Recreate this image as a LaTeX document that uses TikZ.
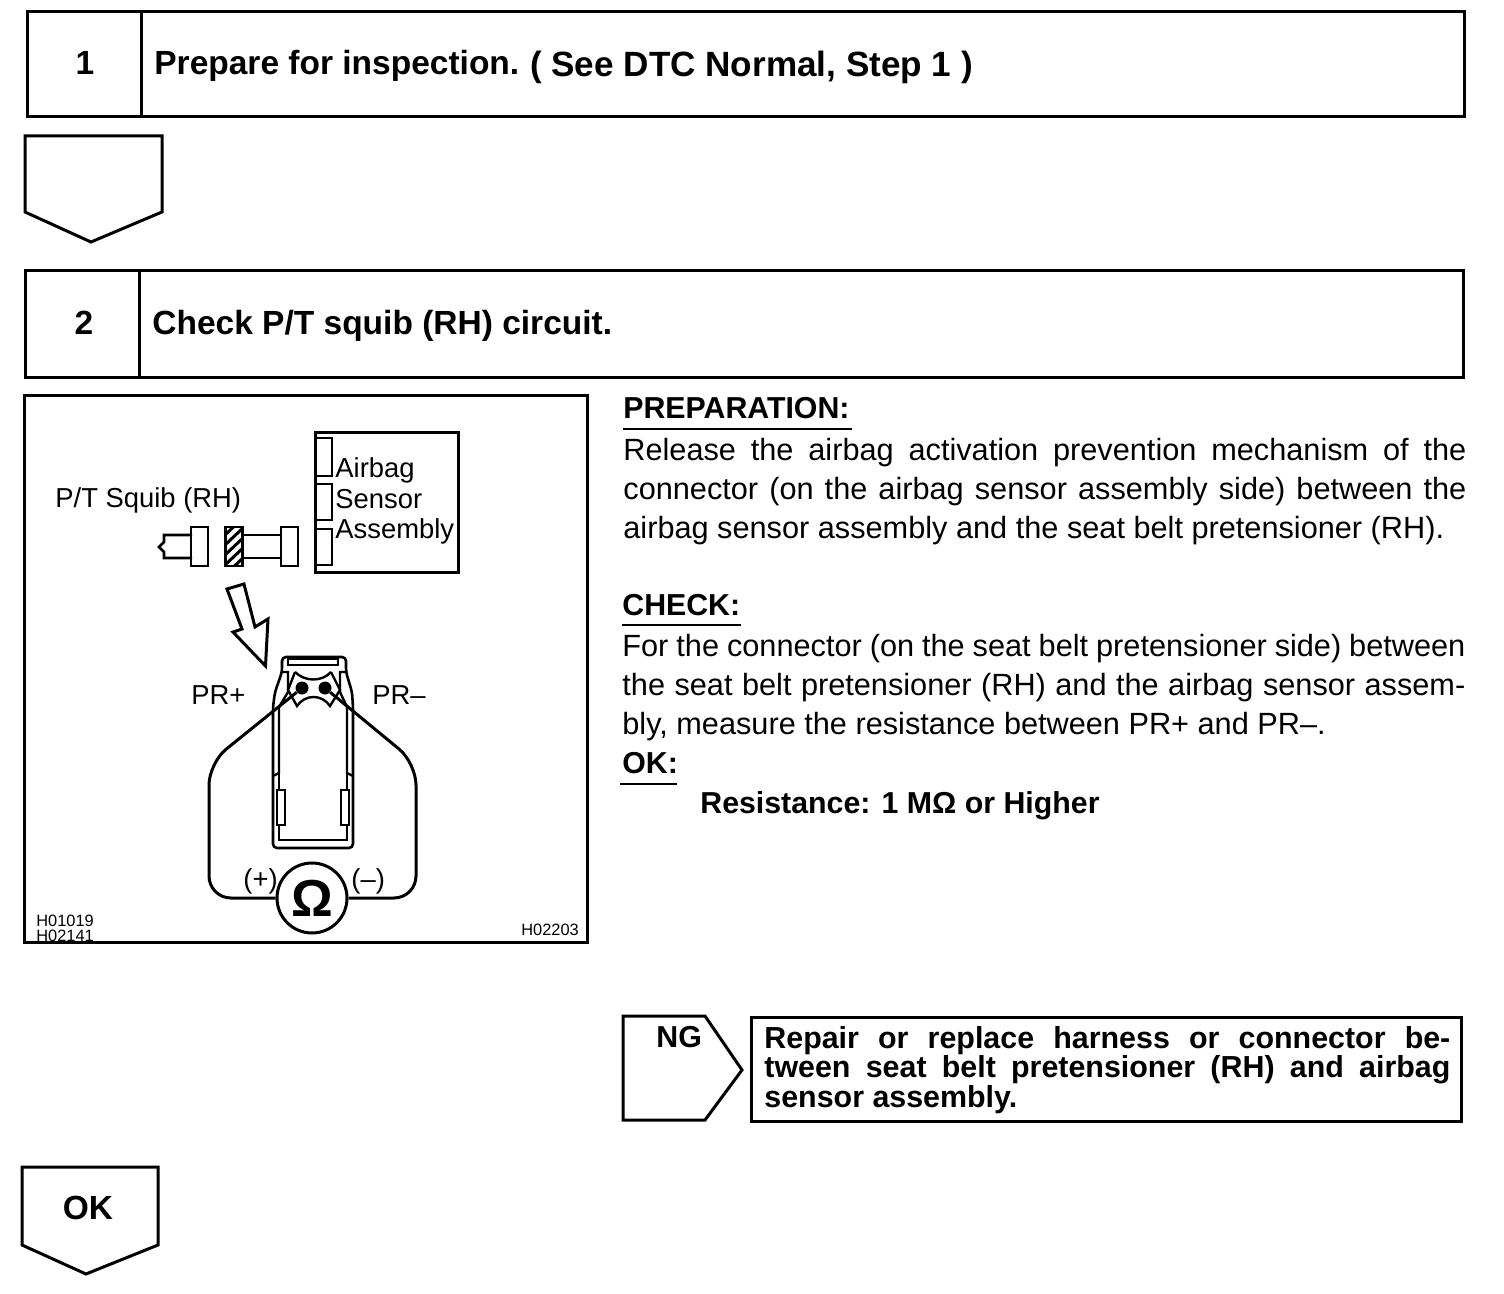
\documentclass[tikz,border=0pt]{standalone}
\usepackage{fontspec}
\setmainfont{Liberation Sans}
\usetikzlibrary{positioning}

\begin{document}
\begin{tikzpicture}[
    x=0.5pt, y=-0.5pt,
    line join=miter,
    stepbox/.style={draw, line width=1.5pt, inner sep=0pt, outer sep=0pt, anchor=north west},
    heading/.style={inner sep=0pt, anchor=base west, font=\fontsize{16.75}{20}\selectfont\bfseries},
    stepnum/.style={inner sep=0pt, anchor=base, font=\fontsize{16.75}{20}\selectfont\bfseries},
    bodytext/.style={inner sep=0pt, anchor=base west, text width=421.5pt, align=justify, font=\fontsize{15.35}{19.6}\selectfont},
    subhead/.style={inner sep=0pt, anchor=base west, font=\fontsize{15.15}{18}\selectfont\bfseries},
    lbl/.style={inner sep=0pt, anchor=base west, font=\fontsize{13.7}{16}\selectfont},
    figcode/.style={inner sep=0pt, anchor=base west, font=\fontsize{8.2}{10}\selectfont},
    slot/.style={draw, line width=1.1pt, inner sep=0pt, outer sep=0pt, anchor=north west, minimum width=8pt},
    flange/.style={draw, line width=1.2pt, inner sep=0pt, outer sep=0pt, anchor=north west, minimum width=8.5pt, minimum height=19.5pt},
    pinhole/.style={circle, fill, inner sep=0pt, minimum size=6.5pt},
    outline/.style={draw, line width=1.5pt},
    wire/.style={draw, line width=1.5pt, rounded corners=11pt},
    thinpart/.style={draw, line width=1.2pt}
]
\useasboundingbox (0,0) rectangle (1504,1294);

% Step 1
\node[stepbox, minimum width=57pt, minimum height=52.5pt] (num1) at (27,12) {};
\node[stepbox, minimum width=661.5pt, minimum height=52.5pt] (step1) at (141,12) {};
\node[stepnum] (n1) at (85,75) {1};
\node[heading] (t1) at (154,75) {Prepare for inspection.\hspace{5.4pt}\raisebox{-1pt}{\fontsize{17.55}{20}\selectfont ( See DTC Normal, Step 1 )}};

% Down arrow after step 1
\draw[outline] (25,136) -- (162,136) -- (162,212) -- (91,242) -- (25,212) -- cycle;

% Step 2
\node[stepbox, minimum width=57pt, minimum height=53.5pt] (num2) at (25,271) {};
\node[stepbox, minimum width=662pt, minimum height=53.5pt] (step2) at (139,271) {};
\node[stepnum] (n2) at (84,335) {2};
\node[heading] (t2) at (152,335) {Check P/T squib (RH) circuit.};

% Illustration frame
\node[stepbox, minimum width=281.5pt, minimum height=273pt] (frame) at (24,396) {};

% Sensor assembly
\node[stepbox, minimum width=71.5pt, minimum height=69.5pt] (sensor) at (315,433) {};
\node[slot, minimum height=19pt] (slota) at (316,438) {};
\node[slot, minimum height=18pt] (slotb) at (316,484) {};
\node[slot, minimum height=18pt] (slotc) at (316,529) {};
\node[lbl] (airbag) at (335,477) {Airbag};
\node[lbl] (sens) at (335,508) {Sensor};
\node[lbl] (assy) at (335,538) {Assembly};
\node[lbl] (squib) at (55,507) {P/T Squib (RH)};

% Connector halves
\draw[thinpart, line width=1.4pt] (192,535) -- (164,535) -- (164,542) -- (159,547) -- (164,552) -- (164,558) -- (192,558);
\node[flange] (flangea) at (191,527) {};
\node[flange] (flangeb) at (225.5,527) {};
\begin{scope}
    \clip (225.5,527) rectangle (243,566);
    \foreach \hy in {535,545,...,585}
        \draw[line width=1.5pt] (225,\hy) -- (244,\hy-18);
\end{scope}
\node[flange] (flangec) at (281,527) {};
\draw[thinpart, line width=1.4pt] (flangeb.east |- 0,535) -- (flangec.west |- 0,535);
\draw[thinpart, line width=1.4pt] (flangeb.east |- 0,558) -- (flangec.west |- 0,558);

% Hollow arrow
\draw[outline] (227,589) -- (244,584) -- (255,627) -- (268,619) -- (265.5,666) -- (233,632) -- (242,629) -- cycle;

% Connector seen from the front
\draw[outline, line width=1.3pt, rounded corners=2pt] (282,672) -- (282,657) -- (346,657) -- (346,672) -- (352,692) -- (353,707) -- (353,848) -- (273,848) -- (273,707) -- (275,692) -- cycle;
\draw[thinpart] (288,659) rectangle (338,665);
\draw[thinpart] (279,707) -- (279,773) -- (273,776);
\draw[thinpart] (347,707) -- (347,773) -- (353,776);
\draw[thinpart] (278,840) -- (348,840);
\draw[thinpart] (282,672) -- (288,672) -- (288,692) -- (279,707);
\draw[thinpart] (346,672) -- (340,672) -- (340,692) -- (347,707);
\draw[thinpart] (295,672) .. controls (305,682) and (322,682) .. (331,672);
\draw[thinpart] (295,672) -- (288,690) -- (297,706) .. controls (305,694) and (322,694) .. (330,706) -- (340,690) -- (331,672);
\node[stepbox, line width=1.1pt, minimum width=4pt, minimum height=17.5pt] (resa) at (277,790) {};
\node[stepbox, line width=1.1pt, minimum width=4pt, minimum height=17.5pt] (resb) at (341,790) {};
\draw[thinpart] (279,773) -- (279,790) (279,825) -- (279,840);
\draw[thinpart] (347,773) -- (347,790) (347,825) -- (347,840);
\node[pinhole] (pinplus) at (302,688) {};
\node[pinhole] (pinminus) at (325,688) {};
\node[lbl] (prplus) at (191,704) {PR+};
\node[lbl] (prminus) at (372,704) {PR--};

% Ohmmeter and its leads
\node[circle, draw, line width=1.5pt, minimum size=35pt, inner sep=0pt, font=\fontsize{26}{30}\selectfont\bfseries] (meter) at (312,898) {Ω};
\coordinate (leadplus) at (209,763);
\coordinate (footplus) at (209,898);
\coordinate (leadminus) at (416,763);
\coordinate (footminus) at (416,898);
\draw[wire] (pinplus) -- (leadplus) -- (footplus) -- (meter.west);
\draw[wire] (pinminus) -- (leadminus) -- (footminus) -- (meter.east);
\node[lbl] (plus) at (243,888) {(+)};
\node[lbl] (minus) at (351,888) {(--)};

% Figure codes
\node[figcode] (codea) at (36,926) {H01019};
\node[figcode] (codeb) at (36,941) {H02141};
\node[figcode] (codec) at (521,935) {H02203};

% Preparation
\node[subhead] (prep) at (623,419) {PREPARATION:};
\draw[line width=1pt] (prep.base west) ++(0,10) -- ++(229,0);
\node[bodytext] (preptext) at (623,460) {Release the airbag activation prevention mechanism of the\linebreak connector (on the airbag sensor assembly side) between the\linebreak airbag sensor assembly and the seat belt pretensioner (RH).};

% Check
\node[subhead] (check) at (622,615) {CHECK:};
\draw[line width=1pt] (check.base west) ++(0,10) -- ++(119,0);
\node[bodytext] (checktext) at (622,656) {For the connector (on the seat belt pretensioner side) between\linebreak the seat belt pretensioner (RH) and the airbag sensor assem-\linebreak bly, measure the resistance between PR+ and PR--.};
\node[subhead] (ok) at (622,773) {OK:};
\draw[line width=1pt] (ok.base west) ++(-2,11) -- ++(57,0);
\node[subhead] (resist) at (700,813) {Resistance: 1 MΩ or Higher};

% NG branch
\draw[outline] (623,1016) -- (705,1016) -- (742,1070) -- (705,1120) -- (623,1120) -- cycle;
\node[subhead] (ng) at (656,1047) {NG};
\node[stepbox, minimum width=355pt, minimum height=52pt] (repair) at (751,1017) {};
\node[inner sep=0pt, anchor=base west, text width=343pt, align=justify, font=\fontsize{15.2}{14.8}\selectfont\bfseries] (repairtext) at (764,1048) {Repair or replace harness or connector be-\linebreak tween seat belt pretensioner (RH) and airbag\linebreak sensor assembly.};

% OK arrow
\draw[outline] (22,1167) -- (158,1167) -- (158,1245) -- (86,1274) -- (22,1245) -- cycle;
\node[stepnum] (okarrow) at (88,1219) {OK};
\end{tikzpicture}
\end{document}
